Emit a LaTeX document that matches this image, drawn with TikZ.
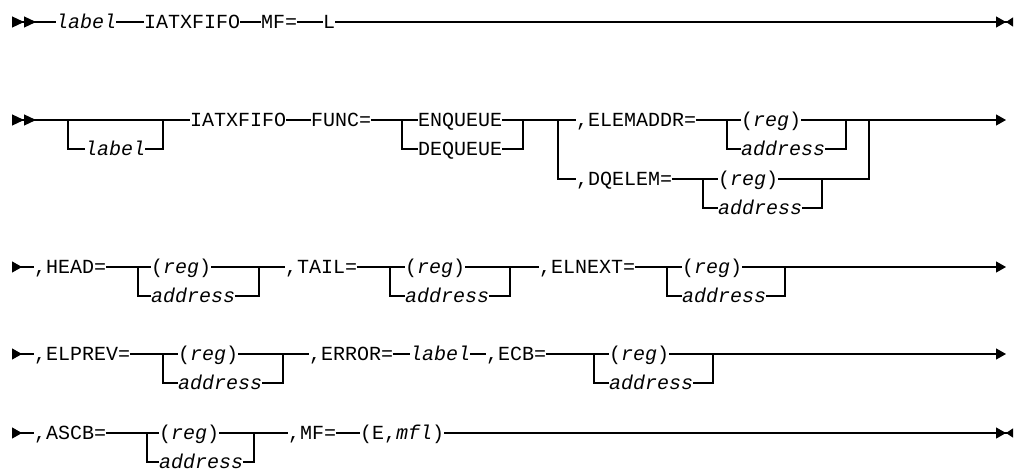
\documentclass[tikz,border=0pt]{standalone}
\usepackage{fontspec}
\setmonofont{Liberation Mono}
\usepackage{tikz}
\usetikzlibrary{positioning, arrows.meta}

\begin{document}
\begin{tikzpicture}[
    x=1pt, y=-1pt,
    kw/.style={
        anchor=west,
        inner sep=0pt,
        text height=13.8pt,
        text depth=0pt,
        font=\ttfamily\fontsize{20}{24}\selectfont
    },
    var/.style={
        kw,
        font=\ttfamily\itshape\fontsize{20}{24}\selectfont
    },
    rail/.style={
        line width=1.2pt
    },
    begin2/.style={
        {Triangle[reversed,length=12pt,width=11pt,sep=0pt]Triangle[reversed,length=12pt,width=11pt,sep=0pt]}-
    },
    begin1/.style={
        {Triangle[reversed,length=10pt,width=11pt,sep=0pt]}-
    },
    cont/.style={
        -{Triangle[length=10pt,width=11pt]}
    },
    stop/.style={
        -{Triangle[length=10pt,width=11pt,sep=0pt]Triangle[reversed,length=7pt,width=9pt,sep=0pt]}
    }
]
\useasboundingbox (0,0) rectangle (1014,476);

% Row 1
\coordinate (s1) at (12,22);
\node (lab1) at (56,22) [var] {label};
\node (iat1) at (144,22) [kw] {IATXFIFO};
\node (mf1) at (261,22) [kw] {MF=};
\node (l1) at (323,22) [kw] {L};
\coordinate (e1) at (1013,22);

\draw [rail, begin2] (s1) -- (lab1.west);
\draw [rail] (lab1.east) -- (iat1.west);
\draw [rail] (iat1.east) -- (mf1.west);
\draw [rail] (mf1.east) -- (l1.west);
\draw [rail, stop] (l1.east) -- (e1);

% Row 2
\coordinate (s2) at (12,120);
\coordinate (b2a) at (68,120);
\coordinate (b2b) at (163,120);
\node (lab2) at (85,149) [var] {label};
\node (iat2) at (190,120) [kw] {IATXFIFO};
\node (func) at (311,120) [kw] {FUNC=};
\coordinate (f2a) at (402,120);
\coordinate (f2b) at (523,120);
\node (enq) at (418,120) [kw] {ENQUEUE};
\node (deq) at (418,149) [kw] {DEQUEUE};
\coordinate (c2a) at (558,120);
\coordinate (c2b) at (869,120);
\node (elem) at (576,120) [kw] {,ELEMADDR=};
\coordinate (ea) at (727,120);
\coordinate (eb) at (846,120);
\node (ereg) at (741,120) [kw] {(\textit{reg})};
\node (eadr) at (741,149) [var] {address};
\node (dq) at (576,179) [kw] {,DQELEM=};
\coordinate (da) at (703,179);
\coordinate (db) at (822,179);
\node (dreg) at (718,179) [kw] {(\textit{reg})};
\node (dadr) at (718,208) [var] {address};
\coordinate (e2) at (1006,120);

\draw [rail, begin2] (s2) -- (iat2.west);
\draw [rail] (b2a) |- (lab2.west);
\draw [rail] (lab2.east) -| (b2b);
\draw [rail] (iat2.east) -- (func.west);
\draw [rail] (func.east) -- (enq.west);
\draw [rail] (f2a) |- (deq.west);
\draw [rail] (deq.east) -| (f2b);
\draw [rail] (enq.east) -- (elem.west);
\draw [rail] (elem.east) -- (ereg.west);
\draw [rail] (ea) |- (eadr.west);
\draw [rail] (eadr.east) -| (eb);
\draw [rail, cont] (ereg.east) -- (e2);
\draw [rail] (c2a) |- (dq.west);
\draw [rail] (dq.east) -- (dreg.west);
\draw [rail] (da) |- (dadr.west);
\draw [rail] (dadr.east) -| (db);
\draw [rail] (dreg.east) -| (c2b);

% Row 3
\coordinate (s3) at (12,267);
\node (head) at (34,267) [kw] {,HEAD=};
\coordinate (ha) at (138,267);
\coordinate (hb) at (259,267);
\node (hreg) at (151,267) [kw] {(\textit{reg})};
\node (hadr) at (151,296) [var] {address};
\node (tail) at (285,267) [kw] {,TAIL=};
\coordinate (ta) at (390,267);
\coordinate (tb) at (510,267);
\node (treg) at (405,267) [kw] {(\textit{reg})};
\node (tadr) at (405,296) [var] {address};
\node (next) at (539,267) [kw] {,ELNEXT=};
\coordinate (na) at (667,267);
\coordinate (nb) at (785,267);
\node (nreg) at (682,267) [kw] {(\textit{reg})};
\node (nadr) at (682,296) [var] {address};
\coordinate (e3) at (1006,267);

\draw [rail, begin1] (s3) -- (head.west);
\draw [rail] (head.east) -- (hreg.west);
\draw [rail] (ha) |- (hadr.west);
\draw [rail] (hadr.east) -| (hb);
\draw [rail] (hreg.east) -- (tail.west);
\draw [rail] (tail.east) -- (treg.west);
\draw [rail] (ta) |- (tadr.west);
\draw [rail] (tadr.east) -| (tb);
\draw [rail] (treg.east) -- (next.west);
\draw [rail] (next.east) -- (nreg.west);
\draw [rail] (na) |- (nadr.west);
\draw [rail] (nadr.east) -| (nb);
\draw [rail, cont] (nreg.east) -- (e3);

% Row 4
\coordinate (s4) at (12,354);
\node (prev) at (34,354) [kw] {,ELPREV=};
\coordinate (pa) at (163,354);
\coordinate (pb) at (283,354);
\node (preg) at (178,354) [kw] {(\textit{reg})};
\node (padr) at (178,383) [var] {address};
\node (err) at (309,354) [kw] {,ERROR=};
\node (lab4) at (410,354) [var] {label};
\node (ecb) at (486,354) [kw] {,ECB=};
\coordinate (ca) at (594,354);
\coordinate (cb) at (713,354);
\node (creg) at (609,354) [kw] {(\textit{reg})};
\node (cadr) at (609,383) [var] {address};
\coordinate (e4) at (1006,354);

\draw [rail, begin1] (s4) -- (prev.west);
\draw [rail] (prev.east) -- (preg.west);
\draw [rail] (pa) |- (padr.west);
\draw [rail] (padr.east) -| (pb);
\draw [rail] (preg.east) -- (err.west);
\draw [rail] (err.east) -- (lab4.west);
\draw [rail] (lab4.east) -- (ecb.west);
\draw [rail] (ecb.east) -- (creg.west);
\draw [rail] (ca) |- (cadr.west);
\draw [rail] (cadr.east) -| (cb);
\draw [rail, cont] (creg.east) -- (e4);

% Row 5
\coordinate (s5) at (12,433);
\node (ascb) at (34,433) [kw] {,ASCB=};
\coordinate (aa) at (147,433);
\coordinate (ab) at (254,433);
\node (areg) at (159,433) [kw] {(\textit{reg})};
\node (aadr) at (159,462) [var] {address};
\node (mf5) at (288,433) [kw] {,MF=};
\node (mfl) at (360,433) [kw] {(E,\textit{mfl})};
\coordinate (e5) at (1013,433);

\draw [rail, begin1] (s5) -- (ascb.west);
\draw [rail] (ascb.east) -- (areg.west);
\draw [rail] (aa) |- (aadr.west);
\draw [rail] (aadr.east) -| (ab);
\draw [rail] (areg.east) -- (mf5.west);
\draw [rail] (mf5.east) -- (mfl.west);
\draw [rail, stop] (mfl.east) -- (e5);

\end{tikzpicture}
\end{document}
